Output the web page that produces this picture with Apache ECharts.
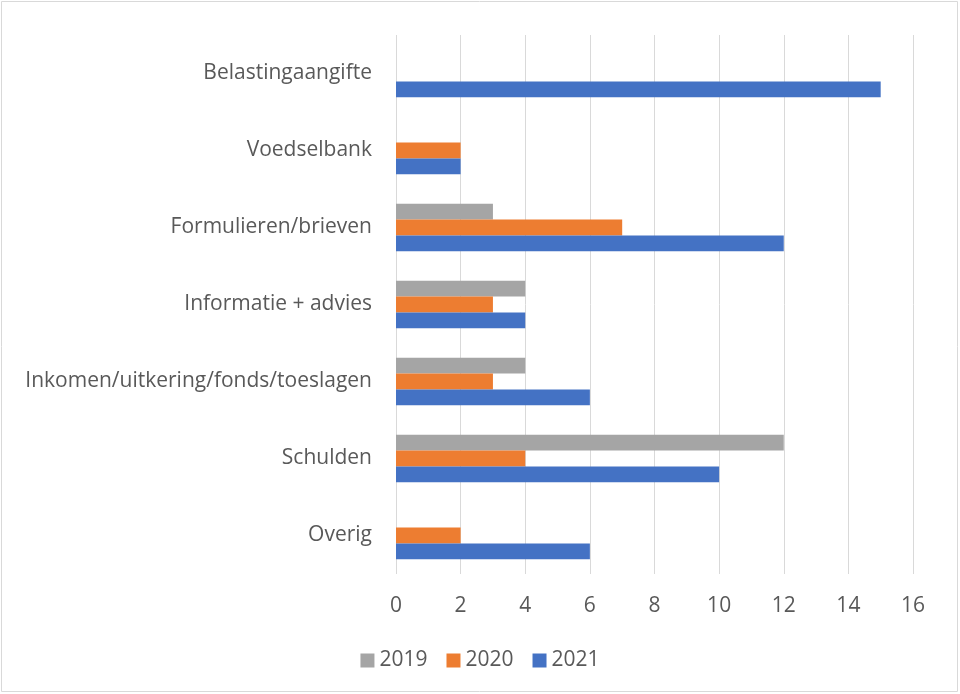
<!DOCTYPE html>
<html>
<head>
<meta charset="utf-8">
<script src="https://cdn.jsdelivr.net/npm/echarts@6/dist/echarts.min.js"></script>
<style>
  html, body { margin: 0; padding: 0; background: #fff; }
  #chart { width: 960px; height: 694px; }
</style>
</head>
<body>
<div id="chart"></div>
<script>
// categorieën van boven naar beneden
const categories = [
  'Belastingaangifte',
  'Voedselbank',
  'Formulieren/brieven',
  'Informatie + advies',
  'Inkomen/uitkering/fonds/toeslagen',
  'Schulden',
  'Overig'
];
const years = ['2019', '2020', '2021'];
const values2019 = [0, 0, 3, 4, 4, 12, 0];
const values2020 = [0, 2, 7, 3, 3, 4, 2];
const values2021 = [15, 2, 12, 4, 6, 10, 6];
const xTicks = { min: 0, max: 16, interval: 2 };

const colors = ['#A5A5A5', '#ED7D31', '#4472C4'];
const font = '"Open Sans", Lato, sans-serif';

const chart = echarts.init(document.getElementById('chart'), null, { renderer: 'canvas' });

const mkSeries = (name, data, color) => ({
  name,
  type: 'bar',
  data,
  barGap: '0%',
  barCategoryGap: '38%',
  itemStyle: { color },
  emphasis: { disabled: true }
});

chart.setOption({
  animation: false,
  textStyle: { fontFamily: font },
  graphic: [{
    type: 'rect',
    shape: { x: 1.5, y: 1.5, width: 956, height: 690 },
    style: { fill: 'none', stroke: '#D9D9D9', lineWidth: 1 }
  }],
  grid: { left: 396, right: 47, top: 35, bottom: 120, containLabel: false },
  legend: {
    data: years,
    bottom: 18,
    left: 'center',
    itemWidth: 14,
    itemHeight: 14,
    itemGap: 19,
    icon: 'rect',
    textStyle: { color: '#595959', fontSize: 21, fontFamily: font }
  },
  xAxis: {
    type: 'value',
    min: xTicks.min,
    max: xTicks.max,
    interval: xTicks.interval,
    axisLine: { show: false },
    axisTick: { show: false },
    axisLabel: { color: '#595959', fontSize: 21, margin: 22, fontFamily: font },
    splitLine: { lineStyle: { color: '#D9D9D9', width: 1 } }
  },
  yAxis: {
    type: 'category',
    data: categories,
    inverse: true,
    axisLine: { show: false },
    axisTick: { show: false },
    axisLabel: { color: '#595959', fontSize: 21, margin: 24, fontFamily: font, padding: [2, 0, 0, 0] }
  },
  series: [
    mkSeries(years[0], values2019, colors[0]),
    mkSeries(years[1], values2020, colors[1]),
    mkSeries(years[2], values2021, colors[2])
  ]
});
</script>
</body>
</html>
